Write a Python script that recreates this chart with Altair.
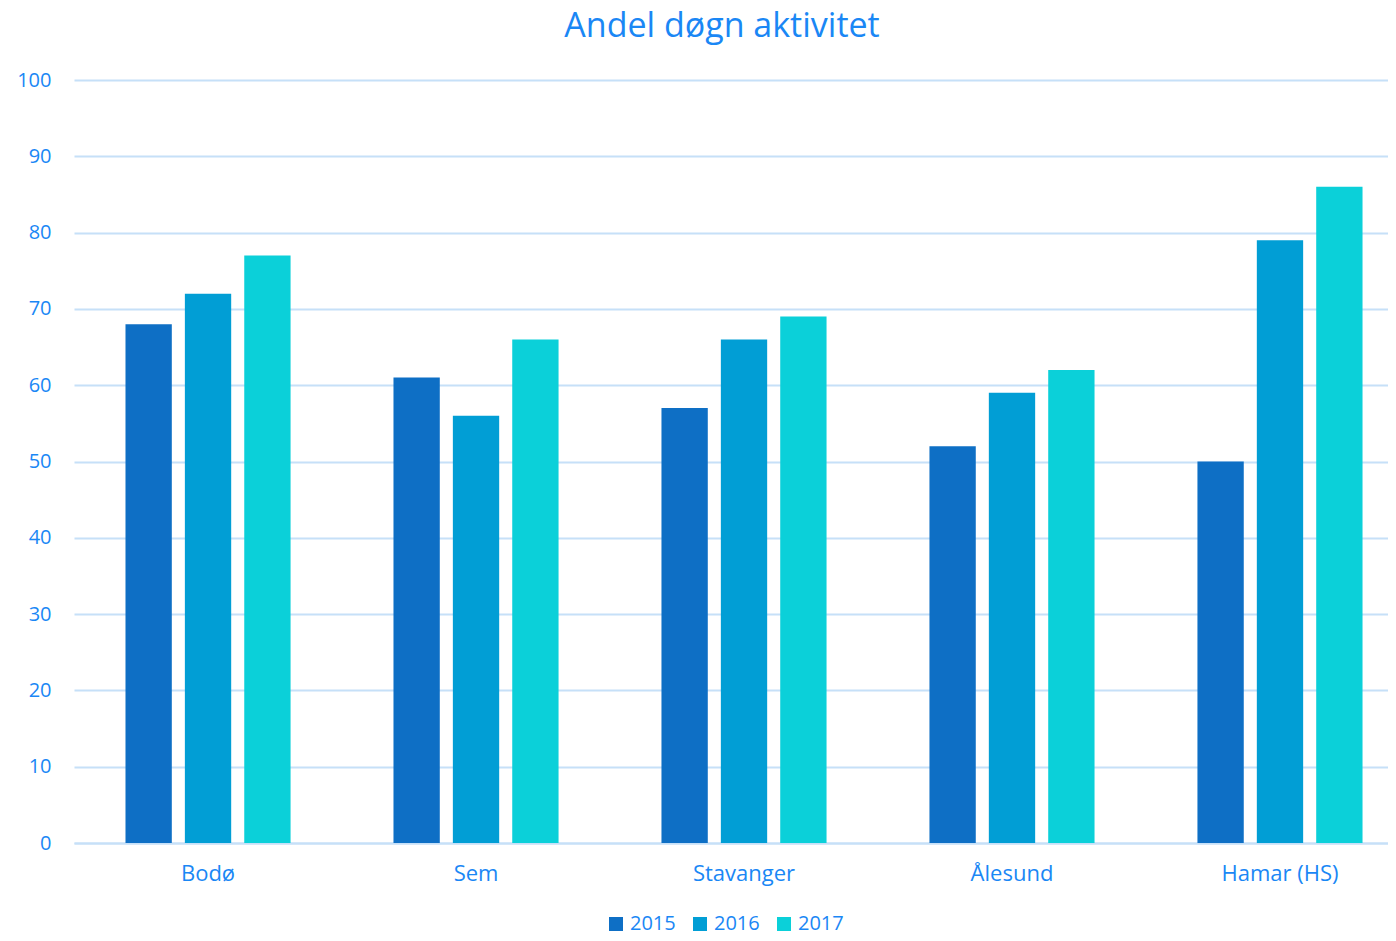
import altair as alt
import pandas as pd

places = ["Bodø", "Sem", "Stavanger", "Ålesund", "Hamar (HS)"]
years = ["2015", "2016", "2017"]
v2015 = [68, 61, 57, 52, 50]
v2016 = [72, 56, 66, 59, 79]
v2017 = [77, 66, 69, 62, 86]

rows = []
for i, p in enumerate(places):
    for y, vals in zip(years, [v2015, v2016, v2017]):
        rows.append({"place": p, "year": y, "value": vals[i]})
df = pd.DataFrame(rows)

txt = "#1A87F5"
grid = "#C6E0F8"
font = "Open Sans"

chart = alt.Chart(df).mark_bar().encode(
    x=alt.X("place:N", sort=places, title=None,
            scale=alt.Scale(paddingInner=0.384, paddingOuter=0.1436, align=0.669),
            axis=alt.Axis(labelAngle=0, labelFontSize=22, labelColor=txt, labelFont=font,
                          ticks=False, domainColor=grid, domainWidth=2, labelPadding=20)),
    xOffset=alt.XOffset("year:N", sort=years, scale=alt.Scale(paddingInner=0.22, paddingOuter=0)),
    y=alt.Y("value:Q", title=None,
            scale=alt.Scale(domain=[0, 100]),
            axis=alt.Axis(values=list(range(0, 101, 10)), labelFontSize=20, labelColor=txt,
                          labelFont=font, ticks=False, domain=False, gridColor=grid,
                          gridWidth=2, labelPadding=23)),
    color=alt.Color("year:N", sort=years,
                    scale=alt.Scale(domain=years, range=["#0E6FC5", "#019ED5", "#0BD0D9"]),
                    legend=alt.Legend(title=None, orient="none", legendX=532, legendY=834,
                                      direction="horizontal", padding=0,
                                      symbolType="square", symbolSize=196, symbolStrokeWidth=0,
                                      labelFontSize=20, labelColor=txt, labelFont=font,
                                      columnPadding=14, labelOffset=4)),
).properties(
    width=1314, height=763,
    padding={"left": 8, "top": 2, "right": 0, "bottom": 42},
    title=alt.TitleParams("Andel døgn aktivitet", fontSize=34, font=font, fontWeight="normal",
                          color=txt, anchor="middle", dx=-9, offset=26),
).configure_view(stroke=None)

chart.save("out.html", embed_options={"renderer": "svg", "actions": False})
